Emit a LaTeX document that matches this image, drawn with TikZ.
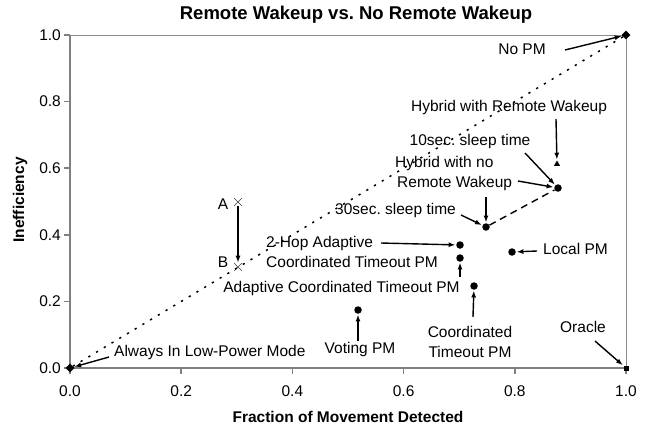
\documentclass[tikz,border=0pt]{standalone}
\usepackage{fontspec}
\setmainfont{Liberation Sans}
\usetikzlibrary{arrows.meta,shapes.geometric,shapes.misc}
\frenchspacing
\begin{document}
\begin{tikzpicture}[x=1pt,y=-1pt,
  lbl/.style={font=\fontsize{15.5}{20}\selectfont, inner sep=0pt},
  ttl/.style={font=\fontsize{18.5}{22}\selectfont\bfseries, inner sep=0pt},
  axt/.style={font=\fontsize{15.5}{18}\selectfont\bfseries, inner sep=0pt},
  dmd/.style={diamond, fill=black, minimum size=9pt, inner sep=0pt},
  dotm/.style={circle, fill=black, minimum size=7.5pt, inner sep=0pt},
  sqm/.style={rectangle, fill=black, minimum size=5pt, inner sep=0pt},
  trim/.style={regular polygon, regular polygon sides=3, fill=black, minimum size=7pt, inner sep=0pt},
  crs/.style={cross out, draw=black!75, line width=0.6pt, minimum size=7pt, inner sep=0pt},
  arr/.style={-{Latex[length=7pt,width=5pt]}, line width=1.4pt, shorten >=0.5pt},
  axisline/.style={draw=black!50, line width=1.5pt},
  frameline/.style={draw=black!45, line width=0.8pt}]
\useasboundingbox (0,0) rectangle (648,426);
\fill[white] (0,0) rectangle (648,426);

% frame and axes
\draw[frameline] (70,35) -- (626,35) -- (626,368);
\draw[axisline] (70,35) -- (70,368) -- (626,368);
\foreach \v/\t in {0/0.0,1/0.2,2/0.4,3/0.6,4/0.8,5/1.0}{
  \draw[axisline] (64,368-66.6*\v) -- (70,368-66.6*\v);
  \node[lbl, anchor=east] (yt\v) at (61,368-66.6*\v) {\t};
  \draw[axisline] (70+111.2*\v,368) -- (70+111.2*\v,374);
  \node[lbl] (xt\v) at (70+111.2*\v,391) {\t};
}

% titles
\node[ttl] (title) at (356,15) {Remote Wakeup vs. No Remote Wakeup};
\node[axt] (xtitle) at (348,417) {Fraction of Movement Detected};
\node[axt, rotate=90] (ytitle) at (20,200) {Inefficiency};

% data markers
\node[dmd] (d00) at (70,368) {};
\node[dmd] (d11) at (626,35) {};
\node[sqm] (oracle) at (626,368) {};
\node[crs] (ptA) at (238,202) {};
\node[crs] (ptB) at (238,267) {};
\node[dotm] (voting) at (358,310) {};
\node[dotm] (coord) at (474,286) {};
\node[dotm] (adapt) at (460,258) {};
\node[dotm] (hop2) at (460,245) {};
\node[dotm] (local) at (512,252) {};
\node[dotm] (s30) at (486,227) {};
\node[dotm] (s10) at (558,188) {};
\node[trim] (hybr) at (557,164) {};

% lines
\draw[line width=1.5pt, dash pattern=on 2.2pt off 6.8pt] (d00) -- (d11);
\draw[line width=1.4pt, dash pattern=on 7pt off 5pt] (s30) -- (s10);

% labels
\node[lbl] (lnopm) at (522,49) {No PM};
\node[lbl] (lhyb) at (509,107) {Hybrid with Remote Wakeup};
\node[lbl] (l10) at (470,141) {10sec. sleep time};
\node[lbl, anchor=west, align=left] (lhybno) at (395,173.5) {Hybrid with no\\\hspace*{2pt}Remote Wakeup};
\node[lbl, anchor=west] (l30) at (335,210) {30sec. sleep time};
\node[lbl, anchor=west, align=left] (l2hop) at (266,251.5) {2-Hop Adaptive\\Coordinated Timeout PM};
\node[lbl] (ladapt) at (341.5,288) {Adaptive Coordinated Timeout PM};
\node[lbl] (lvoting) at (360,349) {Voting PM};
\node[lbl, align=center] (lcoord) at (470,342) {Coordinated\\Timeout PM};
\node[lbl, anchor=west] (llocal) at (543,249) {Local PM};
\node[lbl] (loracle) at (583,327) {Oracle};
\node[lbl, anchor=west] (lalways) at (114,352) {Always In Low-Power Mode};
\node[lbl] (lA) at (223,204) {A};
\node[lbl] (lB) at (223,262) {B};

% arrow tails
\coordinate (tnopm) at (565,50);
\coordinate (thyb) at (556,119);
\coordinate (t10) at (525,153);
\coordinate (thybno1) at (518,181);
\coordinate (thybno2) at (486,197);
\coordinate (t30) at (461,215);
\coordinate (t2hop) at (381,243);
\coordinate (tadapt) at (460,277);
\coordinate (tvoting) at (358,341);
\coordinate (tcoord) at (473,317);
\coordinate (tlocal) at (537,251);
\coordinate (toracle) at (595,341);
\coordinate (talways) at (109,357);

% arrows
\draw[arr] (tnopm) -- (d11);
\draw[arr] (thyb) -- (hybr);
\draw[arr] (t10) -- (s10);
\draw[arr] (thybno1) -- (s10);
\draw[arr] (thybno2) -- (s30);
\draw[arr] (t30) -- (s30);
\draw[arr] (t2hop) -- (hop2);
\draw[arr] (tadapt) -- (adapt);
\draw[arr] (tvoting) -- (voting);
\draw[arr] (tcoord) -- (coord);
\draw[arr] (tlocal) -- (local);
\draw[arr] (toracle) -- (oracle);
\draw[arr] (talways) -- (d00);
\draw[arr] (ptA) -- (ptB);
\end{tikzpicture}
\end{document}
